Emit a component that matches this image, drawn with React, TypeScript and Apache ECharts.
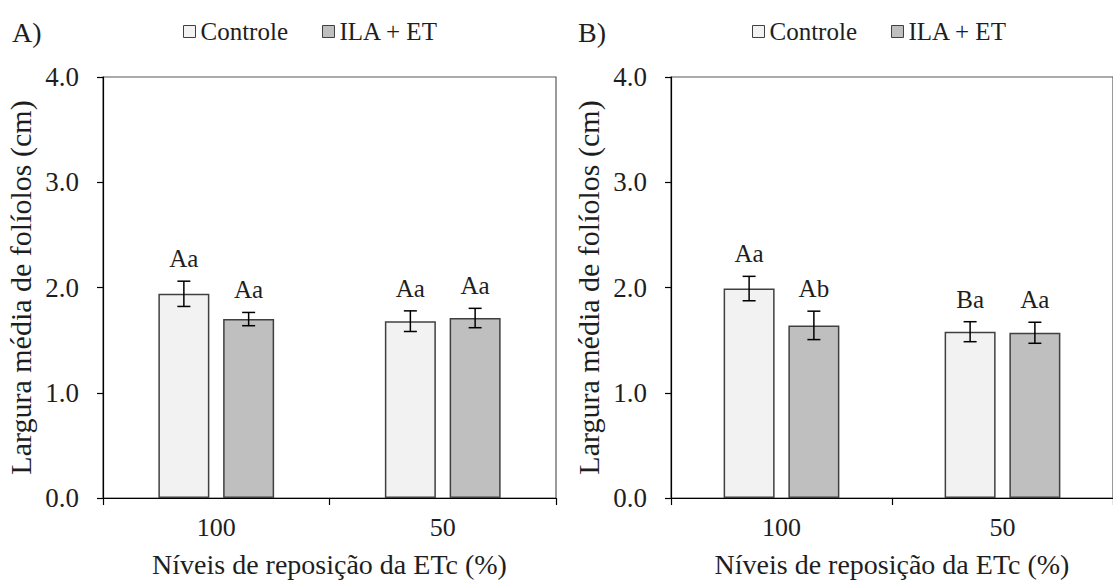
import React, { useEffect, useRef } from 'react';
import * as echarts from 'echarts';

const categories = ['100', '50'];
const seriesNames = ['Controle', 'ILA + ET'];

// Panel A
const aControle = [1.94, 1.68];
const aControleErr = [0.12, 0.098];
const aControleLetters = ['Aa', 'Aa'];
const aIla = [1.70, 1.71];
const aIlaErr = [0.063, 0.092];
const aIlaLetters = ['Aa', 'Aa'];

// Panel B
const bControle = [1.99, 1.58];
const bControleErr = [0.116, 0.095];
const bControleLetters = ['Aa', 'Ba'];
const bIla = [1.64, 1.57];
const bIlaErr = [0.135, 0.10];
const bIlaLetters = ['Ab', 'Aa'];

const yTicks = [0, 1, 2, 3, 4];

const FONT = 'Liberation Serif';
const TEXT = '#1e1e1e';
const FILLS = ['#f2f2f2', '#bfbfbf'];
const BAR_BORDER = '#404040';
const BAR_W = 51;
const BAR_GAP = 0.27;
const OFFSET = (BAR_W + BAR_W * BAR_GAP) / 2;

function errSeries(id: string, means: number[], errs: number[], letters: string[], offset: number, axis: number) {
  return {
    type: 'custom',
    name: id,
    xAxisIndex: axis,
    yAxisIndex: axis,
    z: 10,
    data: means.map((m, i) => [i, m, errs[i]]),
    renderItem: (params: any, api: any) => {
      const c = api.value(0);
      const m = api.value(1);
      const e = api.value(2);
      const x = api.coord([c, 0])[0] + offset;
      const top = api.coord([c, m + e])[1];
      const bot = api.coord([c, m - e])[1];
      const cap = 6.5;
      const style = { stroke: '#000', lineWidth: 1.5 };
      return {
        type: 'group',
        children: [
          { type: 'line', shape: { x1: x, y1: top, x2: x, y2: bot }, style },
          { type: 'line', shape: { x1: x - cap, y1: top, x2: x + cap, y2: top }, style },
          { type: 'line', shape: { x1: x - cap, y1: bot, x2: x + cap, y2: bot }, style },
          {
            type: 'text',
            x,
            y: top - 10,
            style: {
              text: letters[params.dataIndex],
              fontFamily: FONT,
              fontSize: 25,
              fill: TEXT,
              align: 'center',
              verticalAlign: 'bottom',
            },
          },
        ],
      };
    },
  };
}

function barSeries(name: string, data: number[], color: string, axis: number) {
  return {
    type: 'bar',
    name,
    xAxisIndex: axis,
    yAxisIndex: axis,
    data,
    barWidth: BAR_W,
    barGap: BAR_GAP * 100 + '%',
    itemStyle: { color, borderColor: BAR_BORDER, borderWidth: 1.5 },
  };
}

function xAxis(gridIndex: number) {
  return {
    type: 'category',
    gridIndex,
    data: categories,
    boundaryGap: true,
    axisLine: { lineStyle: { color: '#000', width: 1.2 } },
    axisTick: { show: true, alignWithLabel: false, length: 7, lineStyle: { color: '#000', width: 1.2 } },
    axisLabel: { fontFamily: FONT, fontSize: 26, color: TEXT, margin: 16 },
    name: 'Níveis de reposição da ETc (%)',
    nameLocation: 'middle',
    nameGap: 52,
    nameTextStyle: { fontFamily: FONT, fontSize: 28, color: TEXT },
  };
}

function yAxis(gridIndex: number) {
  return {
    type: 'value',
    gridIndex,
    min: yTicks[0],
    max: yTicks[yTicks.length - 1],
    interval: 1,
    splitLine: { show: false },
    axisLine: { show: true, lineStyle: { color: '#000', width: 1.2 } },
    axisTick: { show: true, length: 6, lineStyle: { color: '#000', width: 1.2 } },
    axisLabel: {
      fontFamily: FONT,
      fontSize: 27,
      color: TEXT,
      margin: 24,
      formatter: (v: number) => v.toFixed(1),
    },
    name: 'Largura média de folíolos (cm)',
    nameLocation: 'middle',
    nameGap: 68,
    nameTextStyle: { fontFamily: FONT, fontSize: 30, color: TEXT },
  };
}

function legend(left: number) {
  return {
    left,
    top: 19,
    padding: 0,
    itemGap: 34,
    itemWidth: 12,
    itemHeight: 12,
    icon: 'rect',
    textStyle: { fontFamily: FONT, fontSize: 25, color: TEXT, padding: [2, 0, 0, 0] },
    data: seriesNames.map((n, i) => ({
      name: n,
      itemStyle: { color: FILLS[i], borderColor: BAR_BORDER, borderWidth: 1 },
    })),
  };
}

export default function App() {
  const ref = useRef<HTMLDivElement>(null);
  useEffect(() => {
    if (!ref.current) return;
    const chart = echarts.init(ref.current, undefined, { renderer: 'svg' });
    chart.setOption({
      animation: false,
      backgroundColor: '#fff',
      grid: [
        { left: 103, top: 77, width: 453, height: 424, show: true, borderColor: '#595959', borderWidth: 1.2 },
        { left: 671, top: 77, width: 453, height: 424, show: true, borderColor: '#595959', borderWidth: 1.2 },
      ],
      xAxis: [xAxis(0), xAxis(1)],
      yAxis: [yAxis(0), yAxis(1)],
      legend: [legend(183), legend(752)],
      graphic: [
        { type: 'text', left: 12, top: 18, style: { text: 'A)', fontFamily: FONT, fontSize: 28, fill: TEXT } },
        { type: 'text', left: 578, top: 18, style: { text: 'B)', fontFamily: FONT, fontSize: 28, fill: TEXT } },
      ],
      series: [
        barSeries(seriesNames[0], aControle, FILLS[0], 0),
        barSeries(seriesNames[1], aIla, FILLS[1], 0),
        barSeries(seriesNames[0], bControle, FILLS[0], 1),
        barSeries(seriesNames[1], bIla, FILLS[1], 1),
        errSeries('errAC', aControle, aControleErr, aControleLetters, -OFFSET, 0),
        errSeries('errAI', aIla, aIlaErr, aIlaLetters, OFFSET, 0),
        errSeries('errBC', bControle, bControleErr, bControleLetters, -OFFSET, 1),
        errSeries('errBI', bIla, bIlaErr, bIlaLetters, OFFSET, 1),
      ],
    });
    return () => chart.dispose();
  }, []);
  return (
    <div
      ref={ref}
      style={{ position: 'fixed', left: 0, top: 0, width: 1113, height: 583, background: '#fff' }}
    />
  );
}
